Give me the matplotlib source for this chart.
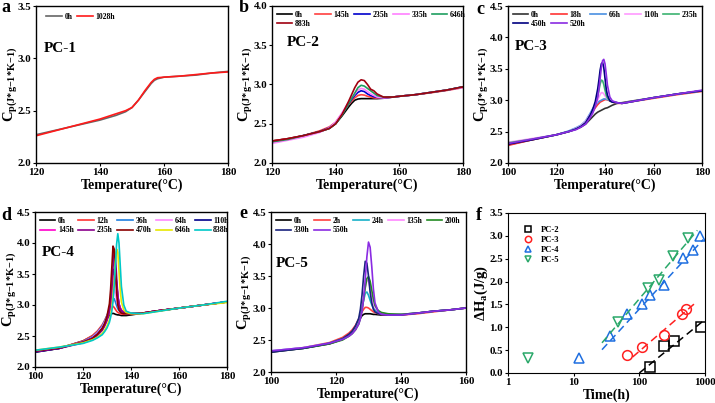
import matplotlib
matplotlib.use("Agg")
import matplotlib.pyplot as plt
from matplotlib.ticker import FixedLocator, FixedFormatter, NullLocator, FormatStrFormatter

plt.rcParams['font.family'] = ['Liberation Serif', 'DejaVu Serif']
plt.rcParams['font.weight'] = 'bold'
plt.rcParams['axes.labelweight'] = 'bold'
plt.rcParams['mathtext.fontset'] = 'custom'
plt.rcParams['mathtext.rm'] = 'Liberation Serif:bold'
plt.rcParams['mathtext.it'] = 'Liberation Serif:bold:italic'
plt.rcParams['mathtext.bf'] = 'Liberation Serif:bold'

# ---------------- data ----------------
# panel a (PC-1)
x_a = [120, 125, 130, 135, 140, 145, 148, 150, 152, 154, 156, 157, 158, 160, 165, 170, 175, 180]
a_labels = ['0h', '1028h']
a_colors = ['#666666', '#ff1a1a']
a_0h = [2.27, 2.305, 2.34, 2.375, 2.41, 2.455, 2.49, 2.53, 2.60, 2.68, 2.76, 2.79, 2.805, 2.82, 2.83, 2.84, 2.86, 2.875]
a_1028h = [2.26, 2.30, 2.34, 2.38, 2.42, 2.47, 2.50, 2.53, 2.60, 2.69, 2.77, 2.80, 2.815, 2.82, 2.83, 2.845, 2.86, 2.87]

# panel b (PC-2)
x_b = [120, 125, 130, 135, 138, 140, 142, 144, 145, 146, 147, 148, 149, 150, 151, 152, 153, 155, 158, 160, 165, 170, 175, 180]
b_labels = ['0h', '145h', '235h', '335h', '646h', '883h']
b_colors = ['#000000', '#ff4040', '#0000cc', '#ff80ff', '#1f9e60', '#a00010']
b_0h = [2.28, 2.31, 2.35, 2.40, 2.44, 2.50, 2.60, 2.71, 2.76, 2.80, 2.815, 2.82, 2.82, 2.82, 2.82, 2.82, 2.82, 2.825, 2.84, 2.85, 2.87, 2.90, 2.93, 2.97]
b_145h = [2.28, 2.31, 2.35, 2.41, 2.46, 2.52, 2.63, 2.74, 2.79, 2.83, 2.86, 2.87, 2.865, 2.85, 2.84, 2.83, 2.825, 2.83, 2.84, 2.85, 2.87, 2.895, 2.925, 2.96]
b_235h = [2.27, 2.30, 2.35, 2.40, 2.45, 2.51, 2.62, 2.75, 2.81, 2.86, 2.90, 2.92, 2.91, 2.88, 2.86, 2.845, 2.835, 2.83, 2.84, 2.85, 2.87, 2.90, 2.93, 2.97]
b_335h = [2.25, 2.29, 2.33, 2.39, 2.45, 2.52, 2.64, 2.77, 2.83, 2.88, 2.93, 2.95, 2.94, 2.91, 2.88, 2.86, 2.84, 2.83, 2.84, 2.85, 2.87, 2.90, 2.93, 2.96]
b_646h = [2.27, 2.30, 2.35, 2.40, 2.44, 2.50, 2.61, 2.75, 2.82, 2.89, 2.96, 2.99, 2.98, 2.95, 2.92, 2.89, 2.86, 2.84, 2.84, 2.85, 2.87, 2.90, 2.93, 2.97]
b_883h = [2.28, 2.31, 2.35, 2.40, 2.44, 2.50, 2.62, 2.78, 2.87, 2.96, 3.03, 3.06, 3.05, 3.00, 2.94, 2.92, 2.88, 2.84, 2.84, 2.85, 2.87, 2.90, 2.93, 2.97]

# panel c (PC-3)
x_c = [100, 110, 120, 125, 128, 130, 132, 134, 135, 136, 137, 137.5, 138, 138.5, 139, 139.5, 140, 140.5, 141, 142, 143, 145, 147, 150, 160, 170, 180]
c_labels = ['0h', '18h', '66h', '110h', '235h', '450h', '520h']
c_colors = ['#333333', '#ff3333', '#4a90e2', '#ff99ff', '#3cb371', '#000080', '#8a2be2']
c_0h = [2.29, 2.37, 2.45, 2.50, 2.54, 2.57, 2.62, 2.70, 2.74, 2.78, 2.81, 2.82, 2.83, 2.84, 2.85, 2.86, 2.87, 2.875, 2.88, 2.90, 2.92, 2.95, 2.96, 2.98, 3.04, 3.10, 3.15]
c_18h = [2.28, 2.37, 2.45, 2.50, 2.54, 2.58, 2.64, 2.75, 2.82, 2.88, 2.93, 2.95, 2.97, 2.98, 2.99, 3.00, 3.01, 3.01, 3.005, 2.99, 2.97, 2.95, 2.95, 2.97, 3.03, 3.09, 3.14]
c_66h = [2.31, 2.38, 2.45, 2.51, 2.56, 2.60, 2.67, 2.80, 2.87, 2.92, 2.96, 2.98, 2.99, 3.00, 3.01, 3.02, 3.02, 3.015, 3.01, 3.00, 2.98, 2.96, 2.95, 2.97, 3.04, 3.10, 3.15]
c_110h = [2.33, 2.39, 2.45, 2.50, 2.55, 2.59, 2.66, 2.78, 2.85, 2.92, 3.00, 3.05, 3.09, 3.12, 3.12, 3.10, 3.07, 3.04, 3.02, 3.00, 2.98, 2.96, 2.95, 2.97, 3.04, 3.10, 3.15]
c_235h = [2.32, 2.38, 2.45, 2.50, 2.54, 2.58, 2.64, 2.76, 2.84, 2.93, 3.07, 3.16, 3.26, 3.32, 3.31, 3.25, 3.16, 3.08, 3.03, 2.99, 2.97, 2.96, 2.95, 2.97, 3.04, 3.10, 3.15]
c_450h = [2.30, 2.37, 2.45, 2.50, 2.54, 2.58, 2.64, 2.77, 2.86, 2.98, 3.18, 3.32, 3.48, 3.58, 3.60, 3.52, 3.35, 3.18, 3.08, 2.99, 2.97, 2.96, 2.95, 2.97, 3.04, 3.10, 3.15]
c_520h = [2.31, 2.38, 2.45, 2.50, 2.53, 2.57, 2.62, 2.73, 2.80, 2.90, 3.05, 3.18, 3.35, 3.52, 3.63, 3.65, 3.58, 3.42, 3.24, 3.05, 2.99, 2.96, 2.95, 2.97, 3.04, 3.10, 3.16]

# panel d (PC-4)
x_d = [100, 110, 120, 124, 126, 128, 129, 130, 131, 131.5, 132, 132.5, 133, 133.5, 134, 134.5, 135, 135.5, 136, 137, 138, 140, 145, 150, 160, 170, 180]
d_labels = ['0h', '12h', '36h', '64h', '110h', '145h', '235h', '470h', '646h', '838h']
d_colors = ['#000000', '#ff3333', '#1e7fe0', '#ff88ff', '#00008b', '#ff00cc', '#8b008b', '#8b0000', '#e8e800', '#00c8c8']
d_0h = [2.24, 2.30, 2.42, 2.50, 2.57, 2.66, 2.72, 2.78, 2.83, 2.85, 2.86, 2.865, 2.86, 2.85, 2.845, 2.84, 2.84, 2.835, 2.83, 2.83, 2.83, 2.84, 2.87, 2.90, 2.95, 3.00, 3.05]
d_12h = [2.25, 2.30, 2.42, 2.51, 2.58, 2.68, 2.75, 2.83, 2.91, 2.95, 2.97, 2.98, 2.96, 2.93, 2.90, 2.88, 2.87, 2.86, 2.855, 2.85, 2.85, 2.85, 2.87, 2.90, 2.95, 3.00, 3.05]
d_36h = [2.25, 2.30, 2.41, 2.49, 2.56, 2.66, 2.74, 2.83, 2.94, 3.01, 3.07, 3.10, 3.10, 3.05, 2.99, 2.94, 2.91, 2.89, 2.88, 2.87, 2.86, 2.86, 2.87, 2.90, 2.95, 3.00, 3.05]
d_64h = [2.26, 2.31, 2.40, 2.48, 2.55, 2.64, 2.72, 2.81, 2.94, 3.03, 3.13, 3.22, 3.25, 3.18, 3.08, 3.00, 2.95, 2.92, 2.90, 2.88, 2.87, 2.86, 2.87, 2.90, 2.95, 3.00, 3.05]
d_110h = [2.24, 2.30, 2.40, 2.47, 2.53, 2.62, 2.69, 2.78, 2.92, 3.03, 3.20, 3.42, 3.58, 3.55, 3.35, 3.15, 3.02, 2.95, 2.91, 2.88, 2.87, 2.86, 2.87, 2.90, 2.95, 3.00, 3.05]
d_145h = [2.25, 2.31, 2.40, 2.46, 2.52, 2.60, 2.67, 2.76, 2.89, 3.00, 3.14, 3.32, 3.47, 3.50, 3.35, 3.15, 3.02, 2.96, 2.92, 2.89, 2.87, 2.86, 2.87, 2.90, 2.95, 3.00, 3.05]
d_235h = [2.25, 2.30, 2.39, 2.45, 2.51, 2.59, 2.66, 2.75, 2.90, 3.03, 3.25, 3.60, 3.88, 3.80, 3.45, 3.15, 3.00, 2.94, 2.91, 2.88, 2.87, 2.86, 2.87, 2.90, 2.95, 3.00, 3.05]
d_470h = [2.26, 2.31, 2.40, 2.46, 2.53, 2.62, 2.70, 2.82, 3.02, 3.25, 3.60, 3.95, 3.90, 3.55, 3.20, 3.00, 2.92, 2.89, 2.87, 2.86, 2.86, 2.86, 2.87, 2.90, 2.95, 3.00, 3.05]
d_646h = [2.27, 2.32, 2.39, 2.44, 2.48, 2.54, 2.59, 2.66, 2.76, 2.84, 2.96, 3.15, 3.40, 3.70, 3.90, 3.85, 3.55, 3.25, 3.05, 2.92, 2.88, 2.86, 2.86, 2.89, 2.95, 3.00, 3.04]
d_838h = [2.27, 2.32, 2.38, 2.43, 2.47, 2.52, 2.57, 2.63, 2.72, 2.80, 2.90, 3.05, 3.30, 3.65, 3.98, 4.15, 4.00, 3.65, 3.30, 3.00, 2.90, 2.87, 2.86, 2.89, 2.95, 3.00, 3.06]

# panel e (PC-5)
x_e = [100, 110, 118, 122, 124, 125, 126, 127, 127.5, 128, 128.5, 129, 129.5, 130, 130.5, 131, 131.5, 132, 133, 134, 136, 140, 145, 150, 155, 160]
e_labels = ['0h', '2h', '24h', '135h', '200h', '330h', '550h']
e_colors = ['#000000', '#ff4040', '#17b0c8', '#ff88ff', '#228b22', '#1a237e', '#8a2be2']
e_0h = [2.31, 2.37, 2.44, 2.51, 2.58, 2.63, 2.70, 2.79, 2.84, 2.88, 2.90, 2.91, 2.91, 2.91, 2.91, 2.905, 2.90, 2.90, 2.895, 2.89, 2.89, 2.90, 2.92, 2.95, 2.97, 3.00]
e_2h = [2.32, 2.38, 2.46, 2.54, 2.61, 2.66, 2.73, 2.83, 2.89, 2.94, 2.98, 3.01, 3.01, 3.00, 2.98, 2.96, 2.94, 2.93, 2.91, 2.90, 2.89, 2.89, 2.91, 2.94, 2.97, 3.00]
e_24h = [2.33, 2.38, 2.45, 2.52, 2.58, 2.63, 2.70, 2.81, 2.90, 3.00, 3.12, 3.23, 3.25, 3.20, 3.12, 3.05, 3.00, 2.97, 2.93, 2.91, 2.90, 2.90, 2.92, 2.95, 2.97, 3.00]
e_135h = [2.33, 2.38, 2.45, 2.51, 2.57, 2.61, 2.67, 2.77, 2.86, 2.98, 3.15, 3.32, 3.44, 3.42, 3.32, 3.18, 3.07, 3.01, 2.95, 2.92, 2.90, 2.90, 2.92, 2.95, 2.97, 3.00]
e_200h = [2.32, 2.37, 2.44, 2.50, 2.56, 2.60, 2.66, 2.75, 2.84, 2.96, 3.14, 3.32, 3.46, 3.49, 3.42, 3.28, 3.14, 3.04, 2.96, 2.93, 2.91, 2.90, 2.92, 2.95, 2.97, 3.00]
e_330h = [2.31, 2.37, 2.45, 2.52, 2.59, 2.64, 2.72, 2.84, 2.98, 3.20, 3.50, 3.73, 3.70, 3.50, 3.25, 3.08, 2.98, 2.94, 2.91, 2.90, 2.89, 2.89, 2.92, 2.95, 2.97, 3.00]
e_550h = [2.33, 2.38, 2.45, 2.51, 2.56, 2.60, 2.66, 2.75, 2.83, 2.95, 3.15, 3.45, 3.80, 4.03, 3.95, 3.65, 3.30, 3.08, 2.94, 2.90, 2.89, 2.89, 2.92, 2.95, 2.97, 3.00]

# panel f (enthalpy vs time)
f_labels = ['PC-2', 'PC-3', 'PC-4', 'PC-5']
f_colors = ['#000000', '#ff2020', '#1f6fe0', '#2aa86a']
f_markers = ['s', 'o', '^', 'v']
t_pc2 = [145, 235, 335, 883]
h_pc2 = [0.14, 0.59, 0.69, 1.01]
t_pc3 = [66, 110, 235, 450, 520]
h_pc3 = [0.40, 0.57, 0.83, 1.30, 1.40]
t_pc4 = [12, 36, 64, 110, 145, 235, 470, 646, 838]
h_pc4 = [0.33, 0.80, 1.30, 1.50, 1.70, 1.92, 2.52, 2.70, 3.00]
t_pc5 = [2, 48, 135, 200, 330, 550]
h_pc5 = [0.32, 1.12, 1.85, 2.03, 2.55, 2.95]
# fitted dashed lines (end points)
fit_t_pc2 = [100, 1000]
fit_h_pc2 = [0.0, 1.17]
fit_t_pc3 = [79, 710]
fit_h_pc3 = [0.35, 1.53]
fit_t_pc4 = [27, 940]
fit_h_pc4 = [0.51, 2.92]
fit_t_pc5 = [27, 765]
fit_h_pc5 = [0.66, 3.12]

# ---------------- figure ----------------
W, H = 715, 403
fig = plt.figure(figsize=(W / 100, H / 100), dpi=100)


def rect(l, t, r, b):
    return [l / W, 1 - b / H, (r - l) / W, (b - t) / H]


ylab_cp = r'C$_\mathregular{p(J{*}g{-}1{*}K{-}1)}$'
xlab_T = 'Temperature(°C)'


def style(ax, xlim, xt, ylim, yt):
    ax.set_xlim(*xlim)
    ax.set_ylim(*ylim)
    ax.xaxis.set_major_locator(FixedLocator(xt))
    ax.yaxis.set_major_locator(FixedLocator(yt))
    ax.yaxis.set_major_formatter(FormatStrFormatter('%.1f'))
    ax.tick_params(direction='out', length=2.5, width=0.8, labelsize=7.8, pad=1)
    for s in ax.spines.values():
        s.set_linewidth(1.0)


def curves(ax, x, ys, labels, colors, lw=1.2):
    for y, lab, c in zip(ys, labels, colors):
        ax.plot(x, y, color=c, lw=lw, label=lab)


def legend(ax, ncol=5, anchor=(0.0, 1.0)):
    handles, labels = ax.get_legend_handles_labels()
    n = len(handles)
    ncol = min(ncol, n)
    nrows, nlarge = divmod(n, ncol)
    rows_per_col = [nrows + 1] * nlarge + [nrows] * (ncol - nlarge)
    order = []
    for c in range(ncol):
        for r in range(rows_per_col[c]):
            order.append(r * ncol + c)
    ax.legend([handles[i] for i in order], [labels[i] for i in order],
              loc='upper left', bbox_to_anchor=anchor, ncol=ncol, frameon=False,
              prop={'family': 'Liberation Serif', 'weight': 'bold', 'size': 5.6},
              handlelength=2.0, handletextpad=0.35, columnspacing=0.6,
              labelspacing=0.2, borderaxespad=0.3, borderpad=0.3)


def labels(ax, ypad=-0.5):
    ax.set_xlabel(xlab_T, fontsize=10, labelpad=1)
    ax.set_ylabel(ylab_cp, fontsize=10.5, labelpad=ypad)


# a
ax = fig.add_axes(rect(36, 6, 228, 163))
curves(ax, x_a, [a_0h, a_1028h], a_labels, a_colors)
style(ax, (120, 180), [120, 140, 160, 180], (2.0, 3.5), [2.0, 2.5, 3.0, 3.5])
legend(ax, ncol=2, anchor=(0.03, 0.985))
ax.text(122.3, 3.09, 'PC-1', fontsize=11, fontweight='bold', va='center')
labels(ax, ypad=-1.0)

# b
ax = fig.add_axes(rect(272, 6, 463, 163))
curves(ax, x_b, [b_0h, b_145h, b_235h, b_335h, b_646h, b_883h], b_labels, b_colors)
style(ax, (120, 180), [120, 140, 160, 180], (2.0, 4.0), [2.0, 2.5, 3.0, 3.5, 4.0])
legend(ax)
ax.text(124.5, 3.53, 'PC-2', fontsize=11, fontweight='bold', va='center')
labels(ax)

# c
ax = fig.add_axes(rect(508, 6, 702, 163))
curves(ax, x_c, [c_0h, c_18h, c_66h, c_110h, c_235h, c_450h, c_520h], c_labels, c_colors)
style(ax, (100, 180), [100, 120, 140, 160, 180], (2.0, 4.5), [2.0, 2.5, 3.0, 3.5, 4.0, 4.5])
legend(ax)
ax.text(103, 3.85, 'PC-3', fontsize=11, fontweight='bold', va='center')
labels(ax)

# d
ax = fig.add_axes(rect(35, 212, 227, 367))
curves(ax, x_d, [d_0h, d_12h, d_36h, d_64h, d_110h, d_145h, d_235h, d_470h, d_646h, d_838h], d_labels, d_colors)
style(ax, (100, 180), [100, 120, 140, 160, 180], (2.0, 4.5), [2.0, 2.5, 3.0, 3.5, 4.0, 4.5])
legend(ax)
ax.text(103, 3.84, 'PC-4', fontsize=11, fontweight='bold', va='center')
labels(ax, ypad=-1.0)

# e
ax = fig.add_axes(rect(271, 212, 466, 372))
curves(ax, x_e, [e_0h, e_2h, e_24h, e_135h, e_200h, e_330h, e_550h], e_labels, e_colors)
style(ax, (100, 160), [100, 120, 140, 160], (2.0, 4.5), [2.0, 2.5, 3.0, 3.5, 4.0, 4.5])
legend(ax)
ax.text(101.5, 3.70, 'PC-5', fontsize=11, fontweight='bold', va='center')
labels(ax)

# f
ax = fig.add_axes(rect(508, 213, 705, 373))
ts = [t_pc2, t_pc3, t_pc4, t_pc5]
hs = [h_pc2, h_pc3, h_pc4, h_pc5]
fts = [fit_t_pc2, fit_t_pc3, fit_t_pc4, fit_t_pc5]
fhs = [fit_h_pc2, fit_h_pc3, fit_h_pc4, fit_h_pc5]
for t, h, ft, fh, lab, c, m in zip(ts, hs, fts, fhs, f_labels, f_colors, f_markers):
    ax.plot(ft, fh, ls=(0, (5, 3)), color=c, lw=1.1)
    ax.plot(t, h, ls='none', marker=m, ms=7, mfc='none', mec=c, mew=1.1, label=lab)
ax.set_xscale('log')
ax.set_xlim(1, 1000)
ax.set_ylim(0.0, 3.5)
ax.xaxis.set_major_locator(FixedLocator([1, 10, 100, 1000]))
ax.xaxis.set_major_formatter(FixedFormatter(['1', '10', '100', '1000']))
ax.xaxis.set_minor_locator(NullLocator())
ax.yaxis.set_major_locator(FixedLocator([0, 0.5, 1.0, 1.5, 2.0, 2.5, 3.0, 3.5]))
ax.yaxis.set_major_formatter(FormatStrFormatter('%.1f'))
ax.tick_params(direction='out', length=2.5, width=0.8, labelsize=7.8, pad=1)
ax.legend(loc='upper left', bbox_to_anchor=(0.04, 0.965), frameon=False,
          prop={'family': 'Liberation Serif', 'weight': 'bold', 'size': 6.2},
          markerscale=0.65, handlelength=1.0, handletextpad=1.0, labelspacing=0.2)
ax.set_xlabel('Time(h)', fontsize=10, labelpad=1)
ax.set_ylabel(r'$\Delta$H$_\mathregular{a}$(J/g)', fontsize=10.5, labelpad=0)

# panel letters
for txt, (px, py) in zip('abcdef', [(1, 8), (239, 7), (476, 10), (1, 215), (239, 214), (476, 215)]):
    fig.text(px / W, 1 - py / H, txt, fontsize=13, fontweight='bold', va='center', ha='left')

fig.savefig('out.png', dpi=100)
